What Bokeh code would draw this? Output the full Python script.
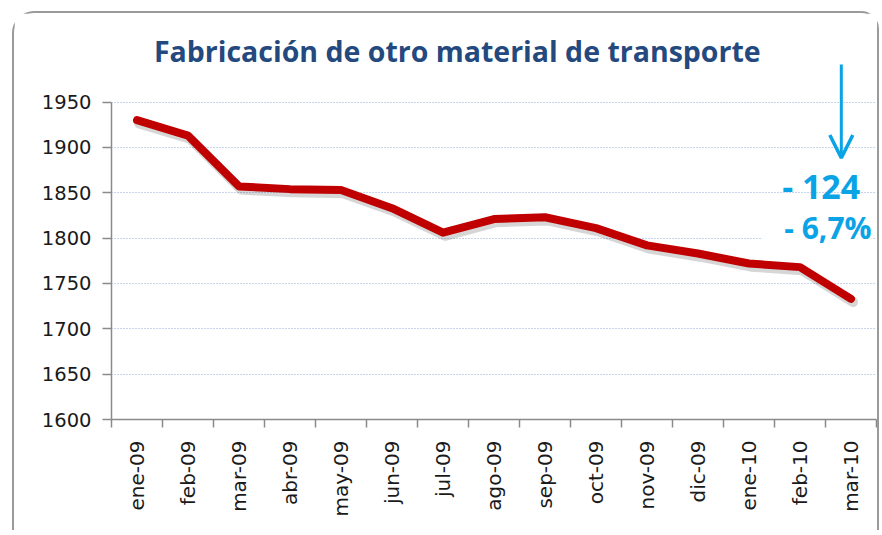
from bokeh.plotting import figure
from bokeh.models import Range1d, FixedTicker, CustomJSTickFormatter, Label, Arrow, OpenHead
from bokeh.embed import file_html
from bokeh.resources import INLINE

months = ["ene-09", "feb-09", "mar-09", "abr-09", "may-09", "jun-09", "jul-09",
          "ago-09", "sep-09", "oct-09", "nov-09", "dic-09", "ene-10", "feb-10", "mar-10"]
values = [1930, 1913, 1857, 1854, 1853, 1833, 1806, 1821, 1823, 1811, 1792, 1783, 1772, 1768, 1733]
y_ticks = [1600, 1650, 1700, 1750, 1800, 1850, 1900, 1950]
title_text = "Fabricación de otro material de transporte"
change_abs = "- 124"
change_pct = "- 6,7%"

xs = [i + 0.5 for i in range(len(months))]

p = figure(width=867, height=519, output_backend="svg", toolbar_location=None,
           x_range=Range1d(0, len(months)), y_range=Range1d(y_ticks[0], 2030),
           min_border_left=97, min_border_right=5, min_border_top=16, min_border_bottom=113)
p.styles = {"border-top": "2px solid #9a9a9a", "border-left": "2px solid #9a9a9a",
            "border-right": "2px solid #9a9a9a", "border-bottom": "0px",
            "border-top-left-radius": "22px", "border-top-right-radius": "18px",
            "margin-left": "12px", "margin-top": "11px"}
p.outline_line_color = None
p.background_fill_color = "white"
p.border_fill_color = "white"

# grid
p.xgrid.visible = False
p.ygrid.grid_line_color = "#8fa8d8"
p.ygrid.grid_line_dash = "1 2"
p.ygrid.grid_line_width = 1.2
p.ygrid.ticker = FixedTicker(ticks=y_ticks)

# axes
ax = p.xaxis[0]
ax.ticker = FixedTicker(ticks=xs, minor_ticks=list(range(len(months) + 1)))
ax.formatter = CustomJSTickFormatter(args=dict(months=months),
                                     code="return months[Math.floor(tick)];")
ax.major_tick_out = 0
ax.major_tick_in = 0
ax.minor_tick_out = 8
ax.minor_tick_in = 0
ax.minor_tick_line_color = "#8a8a8a"
ax.minor_tick_line_width = 1.5
ax.axis_line_color = "#8a8a8a"
ax.axis_line_width = 1.5
ax.major_label_orientation = 1.5707963
ax.major_label_standoff = 13
ax.major_label_text_font = "DejaVu Sans"
ax.major_label_text_font_size = "20px"
ax.major_label_text_color = "#1a1a1a"

ay = p.yaxis[0]
ay.ticker = FixedTicker(ticks=y_ticks)
ay.bounds = (y_ticks[0], y_ticks[-1])
ay.major_tick_out = 9
ay.major_tick_in = 0
ay.minor_tick_out = 0
ay.minor_tick_in = 0
ay.major_tick_line_color = "#8a8a8a"
ay.major_tick_line_width = 1.5
ay.axis_line_color = "#8a8a8a"
ay.axis_line_width = 1.5
ay.major_label_standoff = 11
ay.major_label_text_font = "DejaVu Sans"
ay.major_label_text_font_size = "19.5px"
ay.major_label_text_color = "#1a1a1a"

# shadow + line
p.line([x + 0.04 for x in xs], [v - 3.5 for v in values], line_color="black", line_alpha=0.16,
       line_width=10, line_join="round", line_cap="round")
p.line(xs, values, line_color="#c00000", line_width=8, line_join="round", line_cap="round")

# title
p.add_layout(Label(x=6.78, y=2006.3, text=title_text, text_align="center",
                   text_baseline="alphabetic",
                   text_font="Open Sans", text_font_style="bold", text_font_size="28.5px",
                   text_color="#24497e"))

# annotations
blue = "#0aa3e6"
p.add_layout(Arrow(x_start=14.31, y_start=1991.3, x_end=14.31, y_end=1888.3,
                   line_color=blue, line_width=3,
                   end=OpenHead(size=23, line_color=blue, line_width=3.5)))
p.add_layout(Label(x=13.15, y=1857.8, text=change_abs, text_font="Open Sans",
                   text_baseline="alphabetic",
                   text_font_style="bold", text_font_size="34px", text_color=blue))
p.add_layout(Label(x=12.76, y=1811.8, text=change_pct, text_font="Open Sans",
                   text_baseline="alphabetic",
                   text_font_style="bold", text_font_size="30px", text_color=blue,
                   background_fill_color="white",
                   padding={"left": 22, "right": 0, "top": 0, "bottom": 0}))

open("out.html", "w").write(file_html(p, INLINE))
